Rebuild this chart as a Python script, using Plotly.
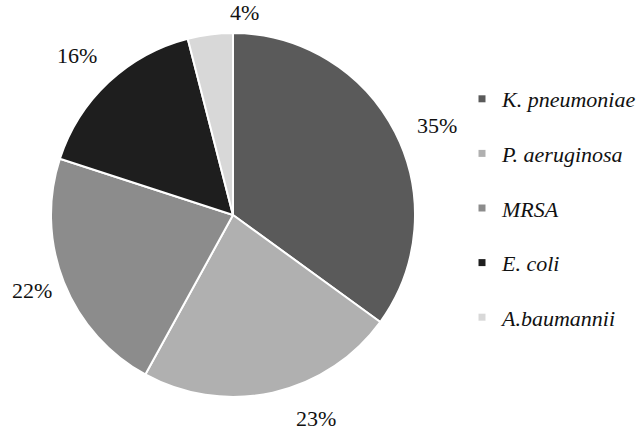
import math
import plotly.graph_objects as go

labels = ["K. pneumoniae", "P. aeruginosa", "MRSA", "E. coli", "A.baumannii"]
values = [35, 23, 22, 16, 4]
colors = ["#5a5a5a", "#b0b0b0", "#8c8c8c", "#1e1e1e", "#d8d8d8"]

W, H = 644, 432
cx, cy, r = 233, 215, 182
dom_x = [(cx - r) / W, (cx + r) / W]
dom_y = [(H - cy - r) / H, (H - cy + r) / H]
FONT = "'Liberation Serif', 'Times New Roman', Times, serif"
# small pixel nudges for the outside labels (style, not data)
label_nudge = [(9, 5), (35, -5), (-20, -10), (-28, 15), (22, 0)]

fig = go.Figure()
fig.add_trace(go.Pie(
    labels=labels, values=values, sort=False, direction="clockwise", rotation=0,
    marker=dict(colors=colors, line=dict(color="white", width=2)),
    textinfo="none", hoverinfo="label+percent", showlegend=False,
    domain=dict(x=dom_x, y=dom_y),
))

# legend entries
for lab, col in zip(labels, colors):
    fig.add_trace(go.Scatter(
        x=[None], y=[None], mode="markers", name=lab, legendgroup=lab,
        marker=dict(symbol="square", size=7, color=col),
    ))

# percentage labels outside the pie
total = sum(values)
cum = 0
R = 1.2 * r
for v, (nx, ny) in zip(values, label_nudge):
    mid = (cum + v / 2) / total * 2 * math.pi
    cum += v
    px = cx + R * math.sin(mid)
    py = cy - R * math.cos(mid)
    fig.add_annotation(
        x=px / W, y=(H - py) / H, xref="paper", yref="paper",
        text=f"{round(v / total * 100)}%", showarrow=False,
        xshift=nx, yshift=ny,
        font=dict(family=FONT, size=22, color="#111"),
    )

fig.update_layout(
    width=W, height=H, margin=dict(l=0, r=0, t=0, b=0),
    paper_bgcolor="white", plot_bgcolor="white",
    xaxis=dict(visible=False), yaxis=dict(visible=False),
    legend=dict(
        x=462 / W, y=1 - 78 / H, xanchor="left", yanchor="top",
        font=dict(family=FONT, size=22, color="#111", style="italic"),
        tracegroupgap=23, itemclick=False,
    ),
)

fig.write_html("out.html", config={"displayModeBar": False},
               post_script="document.body.style.margin='0';")
